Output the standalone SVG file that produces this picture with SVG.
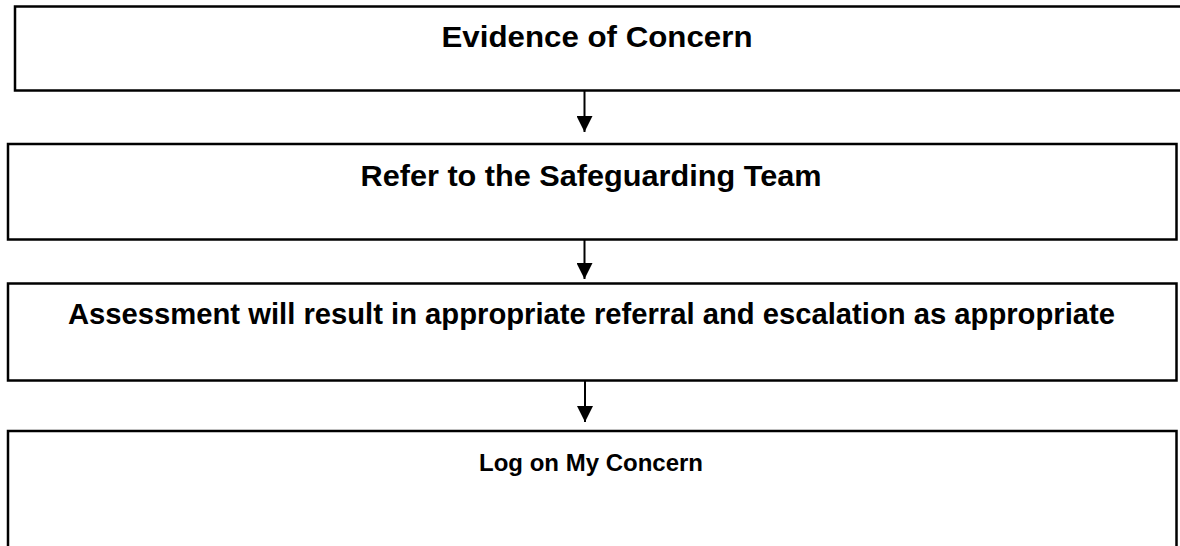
<svg xmlns="http://www.w3.org/2000/svg" width="1180" height="546" viewBox="0 0 1180 546">
  <defs>
    <style>
      .box { fill: #ffffff; stroke: #000000; stroke-width: 2.5; }
      .lbl { font-family: "Liberation Sans", Arial, sans-serif; font-weight: bold; font-size: 29.5px; fill: #000000; text-anchor: middle; }
      .small { font-size: 24.5px; }
      .conn { stroke: #000000; stroke-width: 2; fill: none; }
    </style>
    <marker id="arrow" viewBox="0 0 16 16" refX="16" refY="8" markerWidth="16" markerHeight="16" markerUnits="userSpaceOnUse" orient="auto">
      <path d="M0,0 L16,8 L0,16 Z" fill="#000000"/>
    </marker>
  </defs>
  <rect width="1180" height="546" fill="#ffffff"/>
  <g id="node-evidence">
    <rect class="box" x="15" y="6.5" width="1175" height="84"/>
    <text class="lbl" x="597" y="47" textLength="311" lengthAdjust="spacingAndGlyphs">Evidence of Concern</text>
  </g>
  <g id="node-refer">
    <rect class="box" x="8" y="144" width="1168.5" height="95.5"/>
    <text class="lbl" x="591" y="186" textLength="461" lengthAdjust="spacingAndGlyphs">Refer to the Safeguarding Team</text>
  </g>
  <g id="node-assessment">
    <rect class="box" x="8" y="283.5" width="1168.5" height="97"/>
    <text class="lbl" x="591.5" y="324" textLength="1047" lengthAdjust="spacingAndGlyphs">Assessment will result in appropriate referral and escalation as appropriate</text>
  </g>
  <g id="node-log">
    <rect class="box" x="8" y="431" width="1168.5" height="130"/>
    <text class="lbl small" x="591" y="471" textLength="224" lengthAdjust="spacingAndGlyphs">Log on My Concern</text>
  </g>
  <g id="connectors">
    <line class="conn" x1="584.5" y1="91" x2="584.5" y2="132" marker-end="url(#arrow)"/>
    <line class="conn" x1="584.5" y1="239" x2="584.5" y2="279" marker-end="url(#arrow)"/>
    <line class="conn" x1="585" y1="380" x2="585" y2="422" marker-end="url(#arrow)"/>
  </g>
</svg>
